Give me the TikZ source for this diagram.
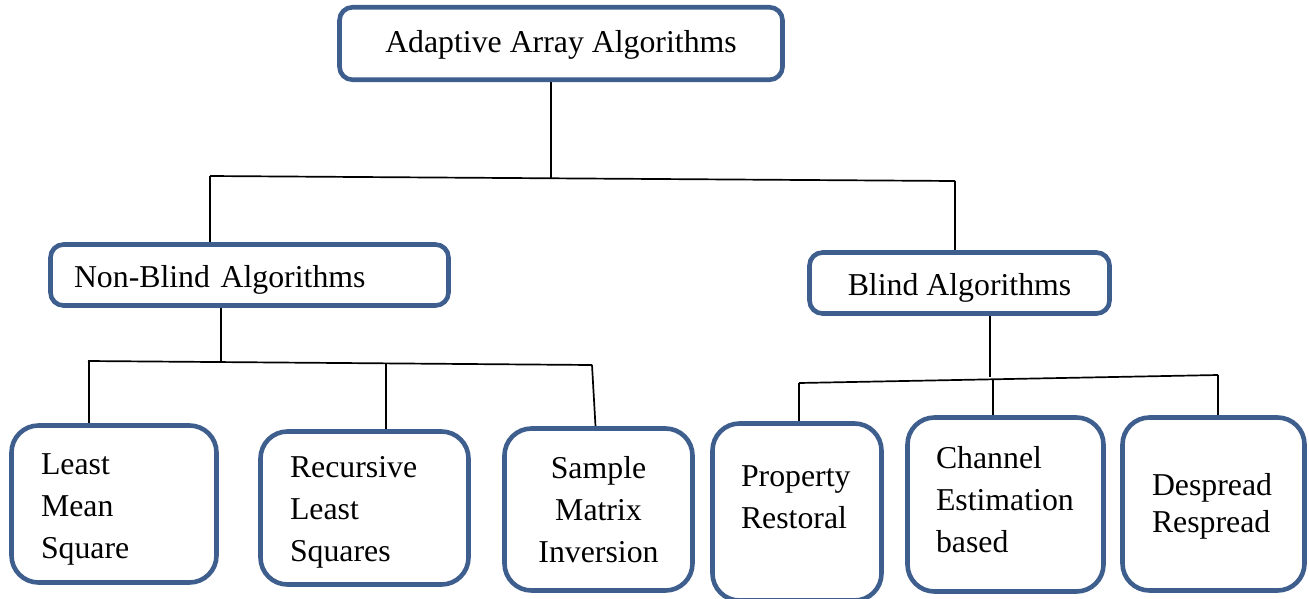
\documentclass[tikz,border=0pt]{standalone}
\usepackage{fontspec}
\setmainfont{Liberation Serif}
\usetikzlibrary{backgrounds}
\definecolor{boxblue}{HTML}{3E5F8E}
\begin{document}
\begin{tikzpicture}[x=1pt, y=-1pt, font=\fontsize{31.8}{42}\selectfont,
    box/.style={draw=boxblue, line width=4.6pt, fill=white, rounded corners=13pt, inner sep=0pt, align=center},
    leaf/.style={box, rounded corners=27pt, align=left, inner xsep=29.5pt},
    link/.style={line width=1.7pt}]
  \useasboundingbox (0,0) rectangle (1309,598);
  \node[box, minimum width=443pt, minimum height=72.5pt, text height=25.7pt] (aaa) at (561,43.5) {Adaptive Array Algorithms};
  \node[box, align=left, text width=351pt, inner xsep=23.5pt, minimum height=61pt, text height=31.7pt] (nba) at (249.5,275) {Non-Blind Algorithms};
  \node[box, minimum width=300pt, minimum height=61pt, text height=31.7pt] (bla) at (959.5,283) {Blind Algorithms};
  \node[leaf, text width=146pt, minimum height=157pt, text height=31pt] (lms) at (114,504) {Least\\Mean\\Square};
  \node[leaf, text width=149pt, minimum height=153pt, text height=29pt] (rls) at (364.5,508) {Recursive\\Least\\Squares};
  \node[leaf, align=center, text width=148pt, inner xsep=20pt, minimum height=162pt] (smi) at (598.5,509.5) {Sample\\Matrix\\Inversion};
  \node[leaf, text width=112pt, inner xsep=28.5pt, minimum height=177pt, text depth=71pt] (prs) at (797,512) {Property\\Restoral};
  \node[leaf, text width=139pt, inner xsep=28.5pt, minimum height=174pt, text depth=94pt] (ces) at (1005.5,504.5) {Channel\\Estimation\\based};
  \node[leaf, text width=123pt, minimum height=173pt, text height=27.7pt, font=\fontsize{31.8}{37}\selectfont] (drs) at (1213.5,504) {Despread\\Respread};
  \coordinate (topJ) at (551,178);
  \coordinate (busL) at (210,176);
  \coordinate (busR) at (955,181);
  \coordinate (nbJ) at (221,362);
  \coordinate (nbL) at (88,361);
  \coordinate (nbM) at (386,363);
  \coordinate (nbR) at (592,365);
  \coordinate (blJ) at (990,377);
  \coordinate (blL) at (799,383);
  \coordinate (blM) at (993,379);
  \coordinate (blR) at (1218,375);
  \begin{scope}[on background layer]
    \draw[link] (aaa.south -| topJ) -- (topJ);
    \draw[link] (busL) -- (busR);
    \draw[link] (busL) -- (busL |- nba.north);
    \draw[link] (busR) -- (busR |- bla.north);
    \draw[link] (nba.south -| nbJ) -- (nbJ);
    \draw[link] (nbL) -- (nbR);
    \draw[link] ([xshift=1pt]nbL) -- ([xshift=1pt]nbL |- lms.north);
    \draw[link] (nbM) -- (nbM |- rls.north);
    \draw[link] (nbR) -- ([xshift=-3pt]smi.north);
    \draw[link] (bla.south -| blJ) -- (blJ);
    \draw[link] (blL) -- (blR);
    \draw[link] (blL) -- (blL |- prs.north);
    \draw[link] (blM) -- (blM |- ces.north);
    \draw[link] (blR) -- (blR |- drs.north);
  \end{scope}
\end{tikzpicture}
\end{document}
